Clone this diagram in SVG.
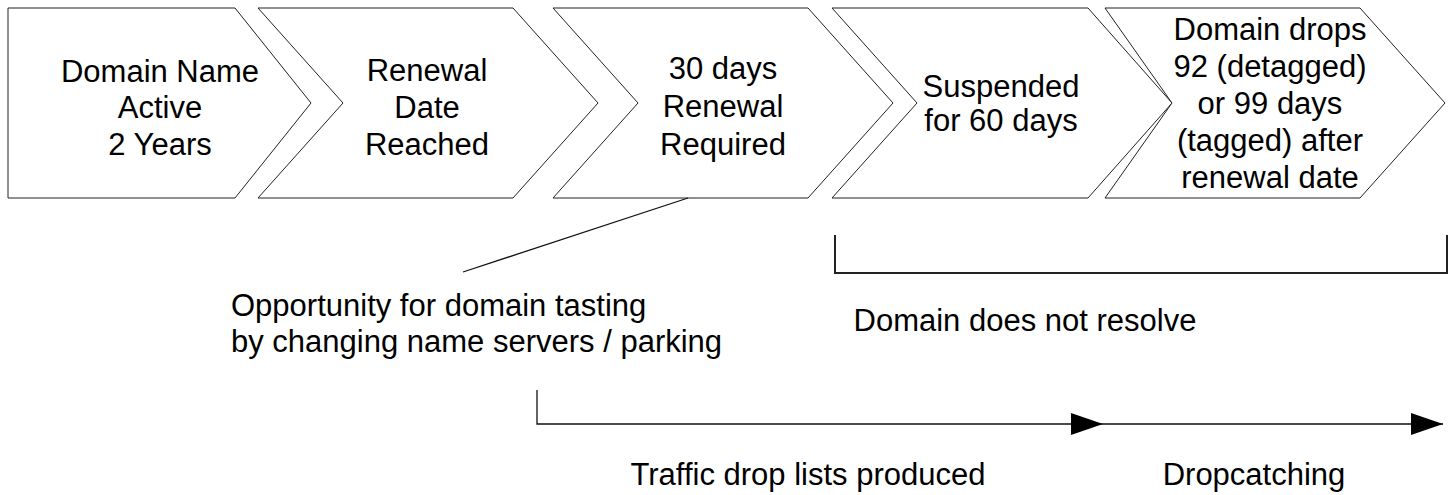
<svg xmlns="http://www.w3.org/2000/svg" width="1450" height="495" viewBox="0 0 1450 495">
<style>
.chev{fill:#fff;stroke:#222;stroke-width:1}
.t{font-family:"Liberation Sans",Arial,sans-serif;font-size:31px;fill:#000;text-anchor:middle}
.tl{font-family:"Liberation Sans",Arial,sans-serif;font-size:31px;fill:#000}
.ln{fill:none;stroke:#111;stroke-width:1.3}
.br{fill:none;stroke:#222;stroke-width:2}
</style>
<defs>
<marker id="ah" markerWidth="32" markerHeight="22" refX="32" refY="11" markerUnits="userSpaceOnUse" orient="auto">
<path d="M0,0 L32,11 L0,22 Z" fill="#000"/>
</marker>
</defs>
<rect width="1450" height="495" fill="#fff"/>
<g id="n1">
<path class="chev" d="M8,8 L235,8 L311,103 L235,198 L8,198 Z"/>
<text class="t" x="160" y="82">Domain Name</text>
<text class="t" x="160" y="118">Active</text>
<text class="t" x="160" y="155">2 Years</text>
</g>
<g id="n2">
<path class="chev" d="M258,8 L513,8 L598,103 L513,198 L258,198 L343,103 Z"/>
<text class="t" x="427" y="81">Renewal</text>
<text class="t" x="427" y="118">Date</text>
<text class="t" x="427" y="155">Reached</text>
</g>
<g id="n3">
<path class="chev" d="M553,8 L808,8 L893,103 L808,198 L553,198 L638,103 Z"/>
<text class="t" x="723" y="79">30 days</text>
<text class="t" x="723" y="117">Renewal</text>
<text class="t" x="723" y="155">Required</text>
</g>
<g id="n4">
<path class="chev" d="M832,8 L1088,8 L1172,103 L1088,198 L832,198 L917,103 Z"/>
<text class="t" x="1001" y="97">Suspended</text>
<text class="t" x="1001" y="131">for 60 days</text>
</g>
<g id="n5">
<path class="chev" d="M1105,8 L1360,8 L1445,103 L1360,198 L1105,198 L1172,103 Z"/>
<text class="t" x="1270" y="40">Domain drops</text>
<text class="t" x="1270" y="77">92 (detagged)</text>
<text class="t" x="1270" y="114">or 99 days</text>
<text class="t" x="1270" y="151">(tagged) after</text>
<text class="t" x="1270" y="188">renewal date</text>
</g>
<g id="labels">
<text class="tl" x="231" y="316">Opportunity for domain tasting</text>
<text class="tl" x="231" y="352">by changing name servers / parking</text>
<text class="t" x="1025" y="331">Domain does not resolve</text>
<text class="t" x="808" y="485">Traffic drop lists produced</text>
<text class="t" x="1254" y="485">Dropcatching</text>
</g>
<g id="connectors">
<line class="ln" x1="688" y1="198" x2="463" y2="272"/>
<path class="br" d="M835,235 L835,273 L1447,273 L1447,235"/>
<path class="ln" d="M537,390 L537,424 L1103,424" marker-end="url(#ah)"/>
<path class="ln" d="M1103,424 L1443,424" marker-end="url(#ah)"/>
</g>
</svg>
